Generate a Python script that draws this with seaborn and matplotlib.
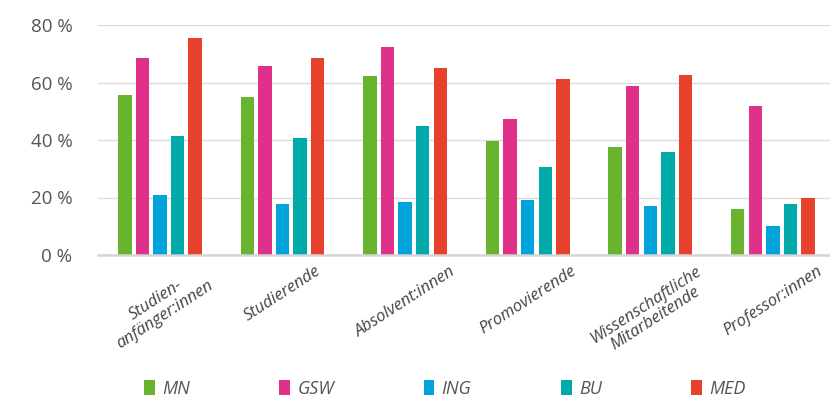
import matplotlib
matplotlib.use("Agg")
import matplotlib.pyplot as plt
from matplotlib.patches import Patch
import seaborn as sns
import pandas as pd

# ---- data ----
categories = ["Studien-\nanfänger:innen", "Studierende", "Absolvent:innen",
              "Promovierende", "Wissenschaftliche\nMitarbeitende", "Professor:innen"]
series_names = ["MN", "GSW", "ING", "BU", "MED"]
mn = [55.7, 55.0, 62.4, 39.7, 37.5, 16.1]
gsw = [68.5, 65.6, 72.2, 47.4, 58.9, 51.9]
ing = [20.8, 17.7, 18.3, 19.1, 16.9, 10.0]
bu = [41.3, 40.6, 44.8, 30.6, 35.9, 17.9]
med = [75.5, 68.6, 64.9, 61.1, 62.6, 19.9]
y_ticks = [0, 20, 40, 60, 80]
y_tick_labels = ["0 %", "20 %", "40 %", "60 %", "80 %"]

colors = ["#69B42E", "#DF318A", "#00A3DA", "#00AAA9", "#E5412D"]

rows = []
for name, vals in zip(series_names, [mn, gsw, ing, bu, med]):
    for cat, v in zip(categories, vals):
        rows.append({"cat": cat, "series": name, "value": v})
df = pd.DataFrame(rows)

sns.set_theme(style="white")
plt.rcParams["font.family"] = ["Open Sans", "DejaVu Sans"]

fig = plt.figure(figsize=(8.3, 4.0), dpi=100)
ax = fig.add_axes([98 / 830, 145 / 400, 1 - 98 / 830, 230 / 400])

sns.barplot(data=df, x="cat", y="value", hue="series", order=categories,
            hue_order=series_names, palette=colors, width=0.717, gap=0.24,
            linewidth=0, saturation=1, errorbar=None, legend=False, ax=ax)

ax.set_xlim(-0.506, 5.466)
ax.set_ylim(0, 80)
ax.set_yticks(y_ticks)
ax.set_yticklabels(y_tick_labels, fontsize=13.5, color="#555555")
ax.tick_params(axis="y", length=0, pad=18.5)
ax.tick_params(axis="x", length=0, pad=6)
ax.set_xticks(range(len(categories)))
ax.set_xticklabels(categories, rotation=33, ha="center", va="top",
                   fontsize=12, style="italic", color="#444444",
                   multialignment="center", linespacing=1.05)
ax.set_xlabel("")
ax.set_ylabel("")
ax.grid(axis="y", color="#dcdcdc", linewidth=1.0)
ax.set_axisbelow(True)
for s in ["left", "right", "top"]:
    ax.spines[s].set_visible(False)
ax.spines["bottom"].set_color("#d5d5d5")
ax.spines["bottom"].set_linewidth(1.8)

handles = [Patch(facecolor=c, edgecolor="none", label=n) for c, n in zip(colors, series_names)]
leg = fig.legend(handles=handles, loc="center left", ncol=5,
                 bbox_to_anchor=(128 / 830, 11 / 400, 634 / 830, 0), mode="expand",
                 frameon=False, handlelength=0.6, handleheight=0.9, handletextpad=0.4,
                 prop={"size": 13, "style": "italic"}, labelcolor="#555555")

fig.savefig("out.png", dpi=100)
